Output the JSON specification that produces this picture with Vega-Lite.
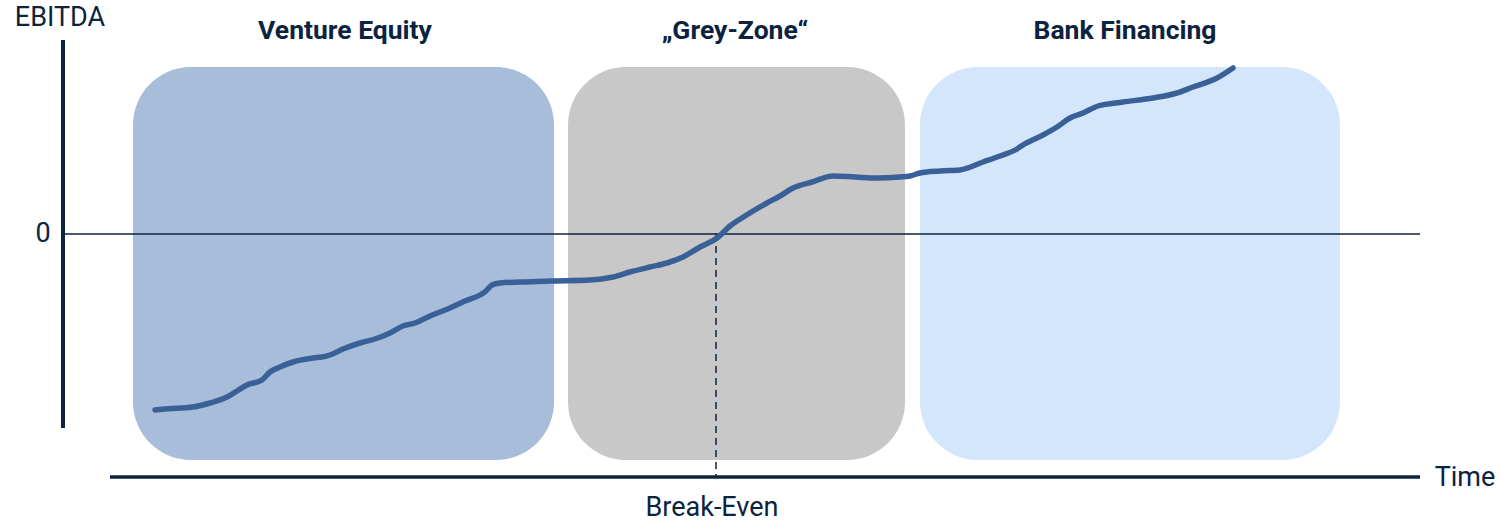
{
  "$schema": "https://vega.github.io/schema/vega-lite/v6.json",
  "autosize": {"type": "fit", "contains": "padding"},
  "width": 1503,
  "height": 523,
  "padding": 0,
  "background": "white",
  "config": {"view": {"stroke": null}},
  "datasets": {
    "boxes": [
      {"phase": "Venture Equity", "start": 133, "end": 554, "top": 167, "bottom": -226},
      {"phase": "Grey-Zone", "start": 568, "end": 905, "top": 167, "bottom": -226},
      {"phase": "Bank Financing", "start": 920, "end": 1340, "top": 167, "bottom": -226}
    ],
    "curve": [
      {"t": 155, "e": -176}, {"t": 165, "e": -175}, {"t": 193, "e": -173}, {"t": 210, "e": -169},
      {"t": 227, "e": -163}, {"t": 237, "e": -157}, {"t": 247, "e": -151}, {"t": 262, "e": -146},
      {"t": 270, "e": -138}, {"t": 280, "e": -133}, {"t": 293, "e": -128}, {"t": 313, "e": -124},
      {"t": 322, "e": -123}, {"t": 330, "e": -121}, {"t": 343, "e": -115}, {"t": 360, "e": -109},
      {"t": 375, "e": -105}, {"t": 390, "e": -99}, {"t": 403, "e": -92}, {"t": 415, "e": -89},
      {"t": 430, "e": -82}, {"t": 450, "e": -74}, {"t": 465, "e": -67}, {"t": 480, "e": -61},
      {"t": 486, "e": -57}, {"t": 492, "e": -51}, {"t": 500, "e": -49}, {"t": 520, "e": -48},
      {"t": 550, "e": -47}, {"t": 590, "e": -46}, {"t": 613, "e": -43}, {"t": 630, "e": -38},
      {"t": 650, "e": -33}, {"t": 667, "e": -29}, {"t": 683, "e": -23}, {"t": 700, "e": -13},
      {"t": 717, "e": -4}, {"t": 730, "e": 8}, {"t": 745, "e": 18}, {"t": 767, "e": 31},
      {"t": 780, "e": 38}, {"t": 793, "e": 46}, {"t": 812, "e": 52}, {"t": 833, "e": 58},
      {"t": 855, "e": 57}, {"t": 877, "e": 56}, {"t": 900, "e": 57}, {"t": 910, "e": 58},
      {"t": 920, "e": 61}, {"t": 940, "e": 63}, {"t": 960, "e": 64}, {"t": 983, "e": 72},
      {"t": 1000, "e": 78}, {"t": 1017, "e": 85}, {"t": 1023, "e": 89}, {"t": 1043, "e": 99},
      {"t": 1057, "e": 107}, {"t": 1070, "e": 116}, {"t": 1083, "e": 121}, {"t": 1098, "e": 128},
      {"t": 1123, "e": 132}, {"t": 1153, "e": 136}, {"t": 1177, "e": 141}, {"t": 1193, "e": 147},
      {"t": 1217, "e": 156}, {"t": 1233, "e": 166}
    ],
    "labels": [
      {"label": "EBITDA", "t": 60, "e": 216},
      {"label": "0", "t": 43, "e": 0},
      {"label": "Time", "t": 1465, "e": -244},
      {"label": "Break-Even", "t": 712, "e": -274}
    ],
    "headings": [
      {"label": "Venture Equity", "t": 345, "e": 203},
      {"label": "„Grey-Zone“", "t": 735, "e": 203},
      {"label": "Bank Financing", "t": 1125, "e": 203}
    ]
  },
  "layer": [
    {
      "data": {"name": "boxes"},
      "mark": {"type": "rect", "cornerRadius": 58},
      "encoding": {
        "x": {"field": "start", "type": "quantitative", "scale": {"domain": [0, 1503], "nice": false, "zero": false}, "axis": null},
        "x2": {"field": "end"},
        "y": {"field": "top", "type": "quantitative", "scale": {"domain": [-289, 234], "nice": false, "zero": false}, "axis": null},
        "y2": {"field": "bottom"},
        "color": {"field": "phase", "type": "nominal", "legend": null,
          "scale": {"domain": ["Venture Equity", "Grey-Zone", "Bank Financing"], "range": ["#a8bdd9", "#c8c8c8", "#d4e6fc"]}}
      }
    },
    {
      "data": {"values": [{"t": 63, "e": 0}, {"t": 1420, "e": 0}]},
      "mark": {"type": "line", "color": "#0c2340", "strokeWidth": 1.5},
      "encoding": {
        "x": {"field": "t", "type": "quantitative"},
        "y": {"field": "e", "type": "quantitative"}
      }
    },
    {
      "data": {"values": [{"t": 63, "e": 194}, {"t": 63, "e": -194}]},
      "mark": {"type": "line", "color": "#0c2340", "strokeWidth": 4},
      "encoding": {
        "x": {"field": "t", "type": "quantitative"},
        "y": {"field": "e", "type": "quantitative"}
      }
    },
    {
      "data": {"values": [{"t": 110, "e": -243}, {"t": 1420, "e": -243}]},
      "mark": {"type": "line", "color": "#0c2340", "strokeWidth": 3.5},
      "encoding": {
        "x": {"field": "t", "type": "quantitative"},
        "y": {"field": "e", "type": "quantitative"}
      }
    },
    {
      "data": {"values": [{"t": 716, "e": 0}, {"t": 716, "e": -243}]},
      "mark": {"type": "line", "color": "#0c2340", "strokeWidth": 1.5, "strokeDash": [7, 5]},
      "encoding": {
        "x": {"field": "t", "type": "quantitative"},
        "y": {"field": "e", "type": "quantitative"}
      }
    },
    {
      "data": {"name": "curve"},
      "mark": {"type": "line", "color": "#3a6197", "strokeWidth": 5.5, "interpolate": "monotone", "strokeCap": "round"},
      "encoding": {
        "x": {"field": "t", "type": "quantitative"},
        "y": {"field": "e", "type": "quantitative"}
      }
    },
    {
      "data": {"name": "labels"},
      "mark": {"type": "text", "font": "Roboto", "fontSize": 27, "color": "#0c2340", "align": "center", "baseline": "middle"},
      "encoding": {
        "x": {"field": "t", "type": "quantitative"},
        "y": {"field": "e", "type": "quantitative"},
        "text": {"field": "label"}
      }
    },
    {
      "data": {"name": "headings"},
      "mark": {"type": "text", "font": "Roboto", "fontSize": 26.5, "fontWeight": "bold", "color": "#0c2340", "align": "center", "baseline": "middle"},
      "encoding": {
        "x": {"field": "t", "type": "quantitative"},
        "y": {"field": "e", "type": "quantitative"},
        "text": {"field": "label"}
      }
    }
  ]
}
